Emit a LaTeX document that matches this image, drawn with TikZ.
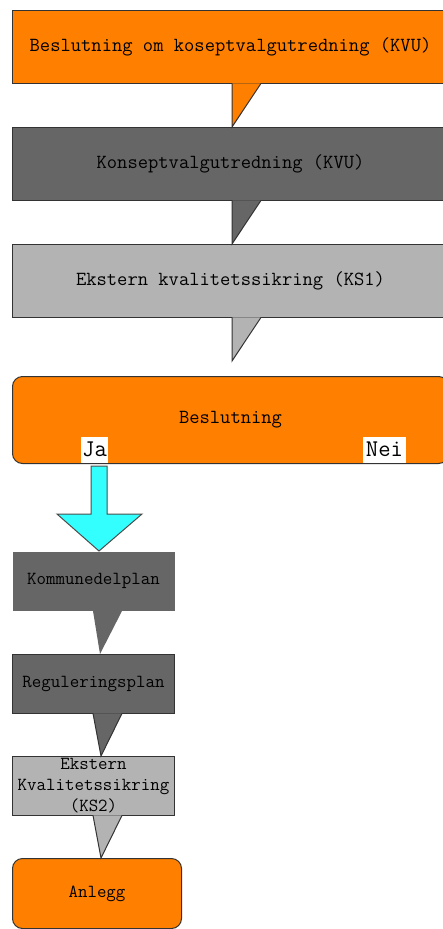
\documentclass[tikz,border=0pt]{standalone}
\definecolor{kvuOrange}{HTML}{FF8000}
\definecolor{kvuDark}{HTML}{666666}
\definecolor{kvuLight}{HTML}{B3B3B3}
\definecolor{kvuCyan}{HTML}{33FFFF}
\usetikzlibrary{calc}

\begin{document}
\begin{tikzpicture}[x=1pt, y=-1pt, line width=1pt,
  stage/.style={anchor=north west, draw=black!80, inner sep=0pt, minimum width=436pt, minimum height=73pt, font=\ttfamily\fontsize{20}{21}\selectfont},
  smallstage/.style={anchor=north west, draw=black!80, inner sep=0pt, minimum width=162pt, minimum height=59pt, align=center, font=\ttfamily\fontsize{18.4}{21}\selectfont},
  tail/.style={draw=black!80},
  answer/.style={fill=white, inner sep=0pt, minimum height=26pt, anchor=south, font=\ttfamily\fontsize{24}{26}\selectfont}]
  \useasboundingbox (0,0) rectangle (443,929);
  \clip (0,0) rectangle (443,929);

  % KVU phase
  \node[stage, fill=kvuOrange] (kvuStart) at (12,10) {Beslutning om koseptvalgutredning (KVU)};
  \node[stage, fill=kvuDark] (kvu) at (12,127) {Konseptvalgutredning (KVU)};
  \node[stage, fill=kvuLight] (ks1) at (12,244) {Ekstern kvalitetssikring (KS1)};
  \node[stage, fill=kvuOrange, rounded corners=10pt, minimum height=87pt] (decision) at (12,376) {Beslutning};

  \filldraw[tail, fill=kvuOrange] ($(kvuStart.south west)+(220,-0.6)$) -- ($(kvu.north west)+(220,0)$) -- ($(kvuStart.south west)+(249,-0.6)$);
  \filldraw[tail, fill=kvuDark] ($(kvu.south west)+(220,-0.6)$) -- ($(ks1.north west)+(220,0)$) -- ($(kvu.south west)+(249,-0.6)$);
  \filldraw[tail, fill=kvuLight] ($(ks1.south west)+(220,-0.6)$) -- ($(ks1.south west)+(220,43)$) -- ($(ks1.south west)+(249,-0.6)$);

  \node[answer, minimum width=27pt] (ja) at (94.5,463) {Ja};
  \node[answer, minimum width=43pt] (nei) at (384.5,463) {Nei};

  % planning phase
  \node[smallstage, fill=kvuDark, draw=none] (kommune) at (12,551) {Kommunedelplan};
  \node[smallstage, fill=kvuDark] (regulering) at (12,654) {Reguleringsplan};
  \node[smallstage, fill=kvuLight] (ks2) at (12,756) {Ekstern\\Kvalitetssikring\\(KS2)};
  \node[smallstage, fill=kvuOrange, rounded corners=10pt, minimum width=169pt, minimum height=70pt] (anlegg) at (12,858) {Anlegg};

  \coordinate (jaTail) at ($(ja.south)+(4.5,3)$);
  \draw[draw=black!70, fill=kvuCyan] ($(jaTail)+(-8,0)$) -- ($(jaTail)+(8,0)$) -- ($(jaTail)+(8,48)$) -- ($(jaTail)+(43,48)$)
    -- (jaTail |- kommune.north) -- ($(jaTail)+(-42,48)$) -- ($(jaTail)+(-8,48)$) -- cycle;

  \fill[kvuDark] ($(kommune.south west)+(81,0)$) -- ($(regulering.north west)+(88,0)$) -- ($(kommune.south west)+(110,0)$) -- cycle;
  \filldraw[tail, fill=kvuDark] ($(regulering.south west)+(81,-0.6)$) -- ($(ks2.north west)+(89,0)$) -- ($(regulering.south west)+(110,-0.6)$);
  \filldraw[tail, fill=kvuLight] ($(ks2.south west)+(81,-0.6)$) -- ($(anlegg.north west)+(89,0)$) -- ($(ks2.south west)+(110,-0.6)$);
\end{tikzpicture}
\end{document}
